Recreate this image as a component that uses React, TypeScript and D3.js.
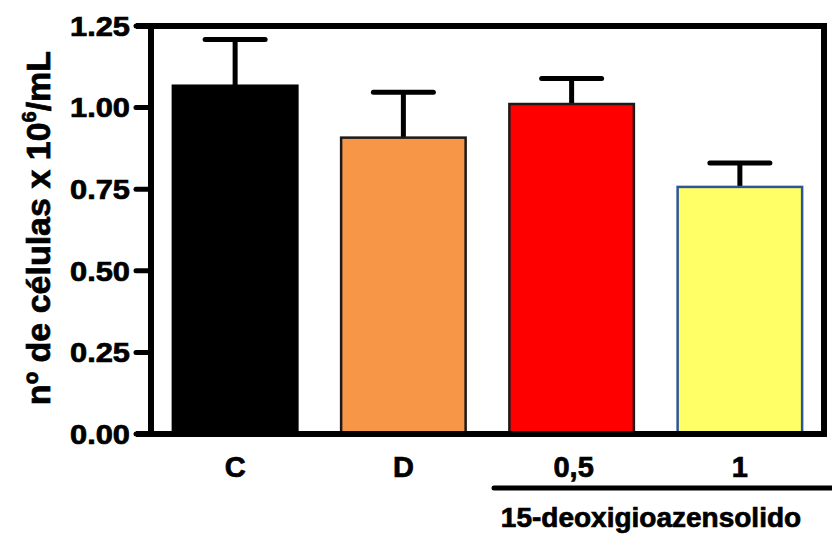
import React from "react";
import * as d3 from "d3";

const categories = ["C", "D", "0,5", "1"];
const means = [1.067, 0.908, 1.011, 0.757];
const errors = [0.142, 0.139, 0.078, 0.073];
const fills = ["#000000", "#F79646", "#FF0000", "#FFFF66"];
const strokes = ["#000000", "#1a1a1a", "#1a1a1a", "#2E5597"];
const yTicks = [0, 0.25, 0.5, 0.75, 1.0, 1.25];
const yTickLabels = ["0.00", "0.25", "0.50", "0.75", "1.00", "1.25"];
const groupLabel = "15-deoxigioazensolido";

const W = 832;
const H = 537;
const left = 151;
const right = 824;
const top = 26;
const bottom = 434;
const font = "'Liberation Sans', Arial, Helvetica, sans-serif";
const heavy = { stroke: "#000", strokeWidth: 0.7 };

export default function App() {
  const x = d3
    .scaleBand<string>()
    .domain(categories)
    .range([left, right])
    .paddingInner(0.26)
    .paddingOuter(0.13);
  const y = d3.scaleLinear().domain([0, 1.25]).range([bottom, top]);
  const bw = x.bandwidth();
  const capW = 60;

  return (
    <svg
      width={W}
      height={H}
      viewBox={`0 0 ${W} ${H}`}
      style={{ position: "absolute", left: 0, top: 0, background: "#fff" }}
    >
      <rect x={0} y={0} width={W} height={H} fill="#fff" />
      {/* bars */}
      {categories.map((c, i) => {
        const x0 = x(c)!;
        const cx = x0 + bw / 2;
        const yTop = y(means[i]);
        const yErr = y(means[i] + errors[i]);
        return (
          <g key={c}>
            <line x1={cx} x2={cx} y1={yTop} y2={yErr} stroke="#000" strokeWidth={5} />
            <line
              x1={cx - capW / 2}
              x2={cx + capW / 2}
              y1={yErr}
              y2={yErr}
              stroke="#000"
              strokeWidth={5}
              strokeLinecap="round"
            />
            <rect
              x={x0}
              y={yTop}
              width={bw}
              height={bottom - yTop}
              fill={fills[i]}
              stroke={strokes[i]}
              strokeWidth={2.5}
            />
          </g>
        );
      })}
      {/* frame */}
      <line x1={136} x2={right + 3} y1={top} y2={top} stroke="#000" strokeWidth={6} />
      <line x1={136} x2={right + 3} y1={bottom} y2={bottom} stroke="#000" strokeWidth={6} />
      <line x1={left} x2={left} y1={top} y2={bottom + 3} stroke="#000" strokeWidth={6} />
      <line x1={right} x2={right} y1={top - 3} y2={bottom + 3} stroke="#000" strokeWidth={6} />
      {/* y ticks */}
      {yTicks.map((t, i) => (
        <g key={t}>
          <line
            x1={136}
            x2={left}
            y1={y(t)}
            y2={y(t)}
            stroke="#000"
            strokeWidth={5}
            strokeLinecap="round"
          />
          <text
            x={130}
            y={y(t)}
            dy="0.36em"
            textAnchor="end"
            fontFamily={font}
            fontWeight="bold"
            fontSize={27}
            textLength={60}
            lengthAdjust="spacingAndGlyphs"
            fill="#000"
            {...heavy}
          >
            {yTickLabels[i]}
          </text>
        </g>
      ))}
      {/* x labels */}
      {categories.map((c) => (
        <text
          key={c}
          x={x(c)! + bw / 2 + (c === "0,5" ? 2 : 0)}
          y={477}
          textAnchor="middle"
          fontFamily={font}
          fontWeight="bold"
          fontSize={29}
          fill="#000"
          {...heavy}
        >
          {c}
        </text>
      ))}
      {/* group bracket */}
      <line x1={494} x2={W + 5} y1={488} y2={488} stroke="#000" strokeWidth={5} strokeLinecap="round" />
      <text
        x={651}
        y={527}
        textAnchor="middle"
        fontFamily={font}
        fontWeight="bold"
        fontSize={28}
        fill="#000"
        {...heavy}
      >
        {groupLabel}
      </text>
      {/* y title */}
      <text
        transform={`translate(50, 228) rotate(-90)`}
        textAnchor="middle"
        fontFamily={font}
        fontWeight="bold"
        fontSize={34}
        fill="#000"
        {...heavy}
      >
        nº de células x 10
        <tspan fontSize={20} dy={-14}>
          6
        </tspan>
        <tspan dy={14}>/mL</tspan>
      </text>
    </svg>
  );
}
